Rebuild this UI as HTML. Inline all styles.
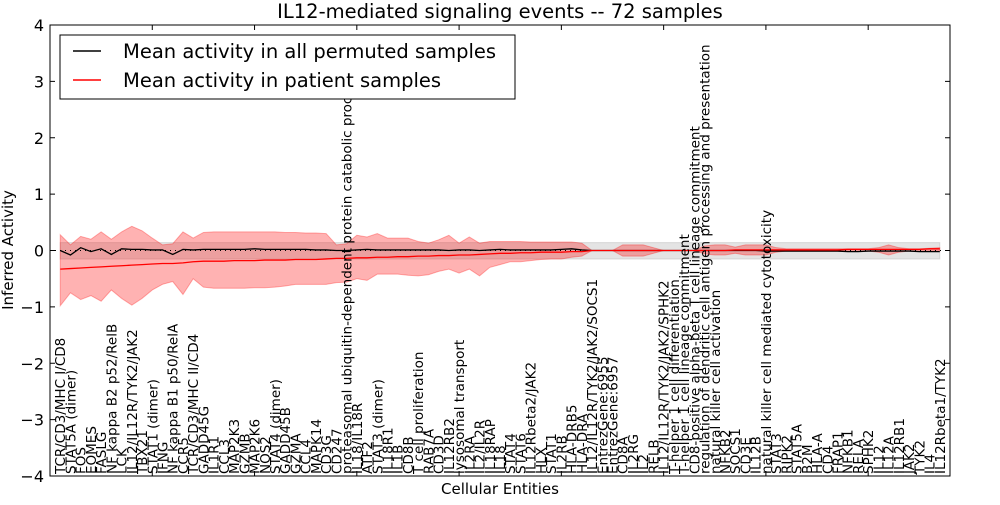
<!DOCTYPE html>
<html><head><meta charset="utf-8"><style>
body{margin:0;background:#fff}
svg text{font-family:"DejaVu Sans","Liberation Sans",sans-serif}
</style></head><body>
<svg id="c" width="1000" height="500" xmlns="http://www.w3.org/2000/svg">
<rect width="1000" height="500" fill="#fff"/>
<text x="500" y="18" text-anchor="middle" font-size="19.5">IL12-mediated signaling events -- 72 samples</text>
<g id="bands"></g><g id="lines"></g><g id="xl"></g><g id="yt"></g>
<rect x="50" y="25" width="900" height="451" fill="none" stroke="#000" stroke-width="1"/>
<text transform="translate(13,250) rotate(-90)" text-anchor="middle" font-size="15">Inferred Activity</text>
<text x="500" y="494" text-anchor="middle" font-size="15">Cellular Entities</text>
<g>
<rect x="60" y="35" width="455" height="64" fill="#fff" stroke="#000" stroke-width="1"/>
<line x1="73" y1="51" x2="101" y2="51" stroke="#000" stroke-width="1.5"/>
<text x="123" y="58" font-size="19.5">Mean activity in all permuted samples</text>
<line x1="73" y1="80" x2="101" y2="80" stroke="#f00" stroke-width="1.5"/>
<text x="123" y="87" font-size="19.5">Mean activity in patient samples</text>
</g>
</svg>
<script>
const labels=["TCR/CD3/MHC I/CD8","STAT5A (dimer)","FOS","EOMES","FASLG","NF kappa B2 p52/RelB","LCK","IL12/IL12R/TYK2/JAK2","TBX21","STAT1 (dimer)","IFNG","NF kappa B1 p50/RelA","CCR5","TCR/CD3/MHC II/CD4","GADD45G","IL1R1","CCL3","MAP2K3","GZMB","MAP2K6","NOS2","STAT4 (dimer)","GADD45B","GZMA","CCL4","MAPK14","CD3G","CD247","proteasomal ubiquitin-dependent protein catabolic process","IL18/IL18R","ATF2","STAT3 (dimer)","IL18R1","IL1B","CD8B","T cell proliferation","RAB7A","CD3D","IL12RB2","lysosomal transport","IL2RA","IL2/IL2R","IL18RAP","IL18","STAT4","STAT6","IL12Rbeta2/JAK2","HLX","STAT1","IL2RB","HLA-DRB5","HLA-DRA","IL12/IL12R/TYK2/JAK2/SOCS1","EntrezGene:6955","EntrezGene:6957","CD8A","IL2RG","IL2","RELB","IL12/IL12R/TYK2/JAK2/SPHK2","T-helper 1 cell differentiation","T-helper 1 cell lineage commitment","CD8-positive alpha-beta T cell lineage commitment","regulation of dendritic cell antigen processing and presentation","natural killer cell activation","NFKB2","SOCS1","CD3E","IL12B","natural killer cell mediated cytotoxicity","STAT3","RIPK2","STAT5A","B2M","HLA-A","CD4","FRAP1","NFKB1","RELA","SPHK2","IL12","IL12A","IL12RB1","JAK2","TYK2","IL4","IL12Rbeta1/TYK2"];
const patientMean=[-0.33,-0.32,-0.31,-0.3,-0.29,-0.28,-0.27,-0.26,-0.25,-0.24,-0.23,-0.23,-0.22,-0.2,-0.19,-0.19,-0.19,-0.18,-0.18,-0.18,-0.17,-0.17,-0.17,-0.16,-0.16,-0.16,-0.15,-0.14,-0.14,-0.13,-0.13,-0.12,-0.12,-0.11,-0.11,-0.1,-0.1,-0.09,-0.09,-0.08,-0.08,-0.07,-0.06,-0.05,-0.05,-0.04,-0.04,-0.03,-0.03,-0.03,-0.02,-0.02,0,0,0,0,0,0,0,0,0,0,0,0,0,0,0.01,0.01,0.01,0.01,0.01,0.01,0.01,0.01,0.01,0.01,0.01,0.02,0.02,0.02,0.02,0.02,0.02,0.02,0.02,0.03,0.03];
const patientUpper=[0.28,0.1,0.25,0.2,0.33,0.2,0.33,0.43,0.35,0.22,0.1,0.12,0.33,0.22,0.32,0.33,0.33,0.33,0.33,0.33,0.33,0.33,0.32,0.32,0.31,0.31,0.3,0.1,0.12,0.27,0.24,0.3,0.22,0.22,0.22,0.16,0.13,0.19,0.27,0.13,0.24,0.13,0.16,0.16,0.16,0.16,0.15,0.15,0.15,0.15,0.15,0.13,0,0,0,0.1,0.1,0.1,0.05,0,0,0,0,0.08,0.1,0.1,0.06,0.1,0.1,0.1,0.05,0.03,0.03,0.03,0.03,0.03,0.03,0.03,0.03,0.03,0.05,0.1,0.05,0.03,0.03,0.04,0.05];
const patientLower=[-0.98,-0.75,-0.87,-0.8,-0.9,-0.7,-0.85,-0.97,-0.85,-0.7,-0.6,-0.55,-0.78,-0.5,-0.65,-0.67,-0.67,-0.67,-0.67,-0.66,-0.66,-0.65,-0.63,-0.6,-0.6,-0.6,-0.6,-0.57,-0.56,-0.5,-0.53,-0.42,-0.42,-0.42,-0.44,-0.45,-0.43,-0.37,-0.33,-0.4,-0.33,-0.45,-0.3,-0.25,-0.2,-0.2,-0.18,-0.16,-0.15,-0.15,-0.12,-0.1,0,0,0,-0.1,-0.1,-0.1,-0.05,0,0,0,0,-0.06,-0.08,-0.08,-0.05,-0.08,-0.08,-0.08,-0.03,-0.01,-0.01,-0.01,-0.01,-0.01,-0.01,-0.01,-0.01,-0.01,-0.03,-0.08,-0.03,-0.01,-0.01,-0.01,-0.01];
const permMean=[0,-0.08,0.05,-0.02,0.03,-0.07,0.03,0.02,0.02,0.01,0.01,-0.07,0.02,0.01,0.02,0.02,0.02,0.02,0.02,0.03,0.02,0.02,0.02,0.02,0.02,0.01,0.01,0,0,0.01,0.02,0.01,0.01,0.01,0.01,0.01,0.01,0.01,0,0.01,0.01,0,0.01,0.02,0.01,0.01,0.01,0.01,0.01,0.02,0.03,0.01,0,0,0,0,0,0,0,0,0,0,0,0,0,0,0,0,0,-0.01,-0.01,-0.01,-0.01,-0.01,-0.01,-0.01,-0.01,-0.02,-0.02,-0.01,-0.01,-0.01,-0.01,-0.01,-0.02,-0.02,-0.02];
const permUpper=permMean.map(()=>0.14);
const permLower=permMean.map(()=>-0.15);
const yTicks=[-4,-3,-2,-1,0,1,2,3,4];
const xTicks=[0,10,20,30,40,50,60,70,80];

const L=50,R=950,T=25,B=476;
const xs=i=>L+(i+1)*(R-L)/88;
const ys=v=>T+(4-v)*(B-T)/8;
const NS="http://www.w3.org/2000/svg";
function mk(t,a,p){const e=document.createElementNS(NS,t);for(const k in a)e.setAttribute(k,a[k]);p.appendChild(e);return e;}
const bands=document.getElementById('bands'),lines=document.getElementById('lines'),xl=document.getElementById('xl'),yt=document.getElementById('yt');
function area(up,lo){let d='M'+up.map((v,i)=>xs(i)+','+ys(v)).join('L');for(let i=lo.length-1;i>=0;i--)d+='L'+xs(i)+','+ys(lo[i]);return d+'Z';}
function line(a){return 'M'+a.map((v,i)=>xs(i)+','+ys(v)).join('L');}
let g=mk('path',{d:area(permUpper,permLower),fill:'#bbb','fill-opacity':0.4,stroke:'#bbb','stroke-opacity':0.5},bands);


let r=mk('path',{d:area(patientUpper,patientLower),fill:'#f00','fill-opacity':0.3,stroke:'#f00','stroke-opacity':0.3},bands);


let z=mk('line',{x1:L,x2:R,y1:ys(0),y2:ys(0),stroke:'#000','stroke-dasharray':'1,4'},lines);


let pm=mk('path',{d:line(permMean),fill:'none',stroke:'#000','stroke-width':1.3},lines);


let rm=mk('path',{d:line(patientMean),fill:'none',stroke:'#f00','stroke-width':1.3},lines);


yTicks.forEach(v=>{
 const y=ys(v);
 mk('line',{x1:L,x2:L+5,y1:y,y2:y,stroke:'#000'},yt);mk('line',{x1:R-5,x2:R,y1:y,y2:y,stroke:'#000'},yt);
 const t=mk('text',{x:L-6,y:y+6,'text-anchor':'end','font-size':16},yt);t.textContent=v<0?'\u2212'+(-v):String(v);
 
 
});
xTicks.forEach(k=>{const x=L+k*(R-L)/88;mk('line',{x1:x,x2:x,y1:T,y2:T+5,stroke:'#000'},yt);mk('line',{x1:x,x2:x,y1:B-5,y2:B,stroke:'#000'},yt);});
labels.forEach((s,i)=>{
 const x=xs(i)+5;
 const t=mk('text',{transform:`translate(${x},${B-2}) rotate(-90)`,'font-size':13.5},xl);t.textContent=s;
 
 
});
</script>
</body></html>
